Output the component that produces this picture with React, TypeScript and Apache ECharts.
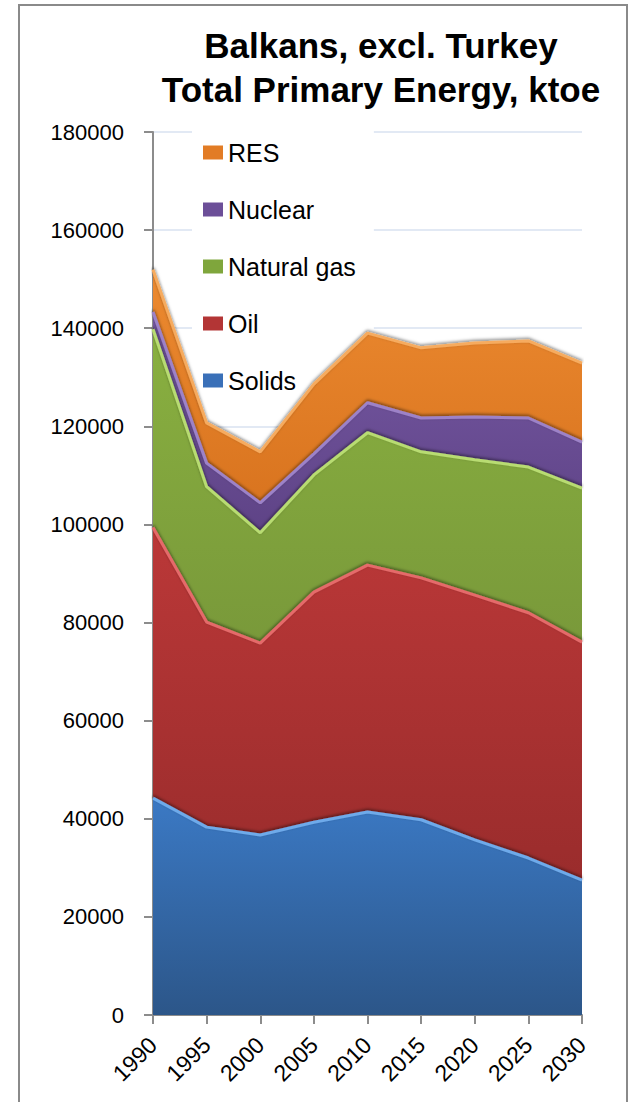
import React, { useEffect, useRef } from "react";
import * as echarts from "echarts";

const years = ["1990", "1995", "2000", "2005", "2010", "2015", "2020", "2025", "2030"];
const solids = [44200, 38300, 36700, 39300, 41400, 39800, 35700, 32000, 27500];
const oil = [55200, 41800, 39100, 46900, 50300, 49300, 49900, 50000, 48500];
const gas = [40400, 27600, 22500, 23900, 27000, 25700, 27600, 29700, 31400];
const nuclear = [3500, 4800, 6100, 4300, 6100, 6900, 8700, 10000, 9400];
const res = [8600, 8200, 10400, 14200, 14200, 14300, 15100, 15700, 16100];
const legendOrder = ["RES", "Nuclear", "Natural gas", "Oil", "Solids"];
const titleLines = ["Balkans, excl. Turkey", "Total Primary Energy, ktoe"];

const FONT = "'Liberation Sans', Arial, sans-serif";

function grad(top: string, bottom: string) {
  return new echarts.graphic.LinearGradient(0, 0, 0, 1, [
    { offset: 0, color: top },
    { offset: 1, color: bottom },
  ]);
}

function makeSeries(name: string, data: number[], base: string, top: string, bottom: string, hi: string, z: number) {
  return {
    name,
    type: "line",
    stack: "total",
    data,
    symbol: "none",
    z,
    itemStyle: { color: base },
    lineStyle: {
      color: hi,
      width: 3,
      shadowColor: "rgba(0,0,0,0.5)",
      shadowBlur: 3,
      shadowOffsetY: -1.5,
    },
    areaStyle: { color: grad(top, bottom), opacity: 1 },
    emphasis: { disabled: true },
  };
}

export default function App() {
  const ref = useRef<HTMLDivElement>(null);
  useEffect(() => {
    if (!ref.current) return;
    const chart = echarts.init(ref.current, undefined, { renderer: "svg" });
    chart.setOption({
      animation: false,
      backgroundColor: "#ffffff",
      graphic: [
        {
          type: "rect",
          shape: { x: 19, y: 5, width: 608, height: 1120 },
          style: { fill: "none", stroke: "#8a8a8a", lineWidth: 2 },
          z: 0,
        },
        {
          type: "text",
          x: 381,
          y: 45,
          style: {
            text: titleLines[0],
            font: `bold 35px ${FONT}`,
            fill: "#000",
            textAlign: "center",
            textVerticalAlign: "middle",
          },
        },
        {
          type: "text",
          x: 381,
          y: 89,
          style: {
            text: titleLines[1],
            font: `bold 35px ${FONT}`,
            fill: "#000",
            textAlign: "center",
            textVerticalAlign: "middle",
          },
        },
      ],
      legend: {
        data: legendOrder,
        orient: "vertical",
        left: 192,
        top: 126,
        padding: [14, 18, 10, 11],
        itemGap: 32,
        itemWidth: 20,
        itemHeight: 14,
        icon: "rect",
        backgroundColor: "#ffffff",
        textStyle: { fontFamily: FONT, fontSize: 25, color: "#000" },
        selectedMode: false,
        z: 4,
      },
      grid: { left: 153, right: 50, top: 132, bottom: 87, containLabel: false },
      xAxis: {
        type: "category",
        data: years,
        boundaryGap: false,
        axisLine: { lineStyle: { color: "#8c8c8c", width: 2 } },
        axisTick: { show: true, length: 9, lineStyle: { color: "#8c8c8c", width: 2 } },
        axisLabel: {
          rotate: 45,
          margin: 26,
          fontFamily: FONT,
          fontSize: 23,
          color: "#000",
        },
      },
      yAxis: {
        type: "value",
        min: 0,
        max: 180000,
        interval: 20000,
        axisLine: { show: true, lineStyle: { color: "#8c8c8c", width: 2 } },
        axisTick: { show: true, length: 9, lineStyle: { color: "#8c8c8c", width: 2 } },
        axisLabel: {
          margin: 29,
          fontFamily: FONT,
          fontSize: 22,
          color: "#000",
          formatter: (v: number) => String(v),
        },
        splitLine: { show: true, lineStyle: { color: "#d9e2f1", width: 1.5 } },
      },
      series: [
        makeSeries("Solids", solids, "#3a70b8", "#3b79c4", "#2c5689", "#6eaaea", 10),
        makeSeries("Oil", oil, "#b33535", "#bb3838", "#9a2c2c", "#e56a6a", 9),
        makeSeries("Natural gas", gas, "#7fa63c", "#89b040", "#79993a", "#b8dc72", 8),
        makeSeries("Nuclear", nuclear, "#6c4f98", "#7759a4", "#5e4386", "#9d82c8", 7),
        makeSeries("RES", res, "#e27c25", "#ec8a30", "#d9741f", "#f6ab5e", 6),
      ],
    });
    return () => chart.dispose();
  }, []);
  return (
    <div
      ref={ref}
      style={{ position: "absolute", left: 0, top: 0, width: 632, height: 1102 }}
    />
  );
}
